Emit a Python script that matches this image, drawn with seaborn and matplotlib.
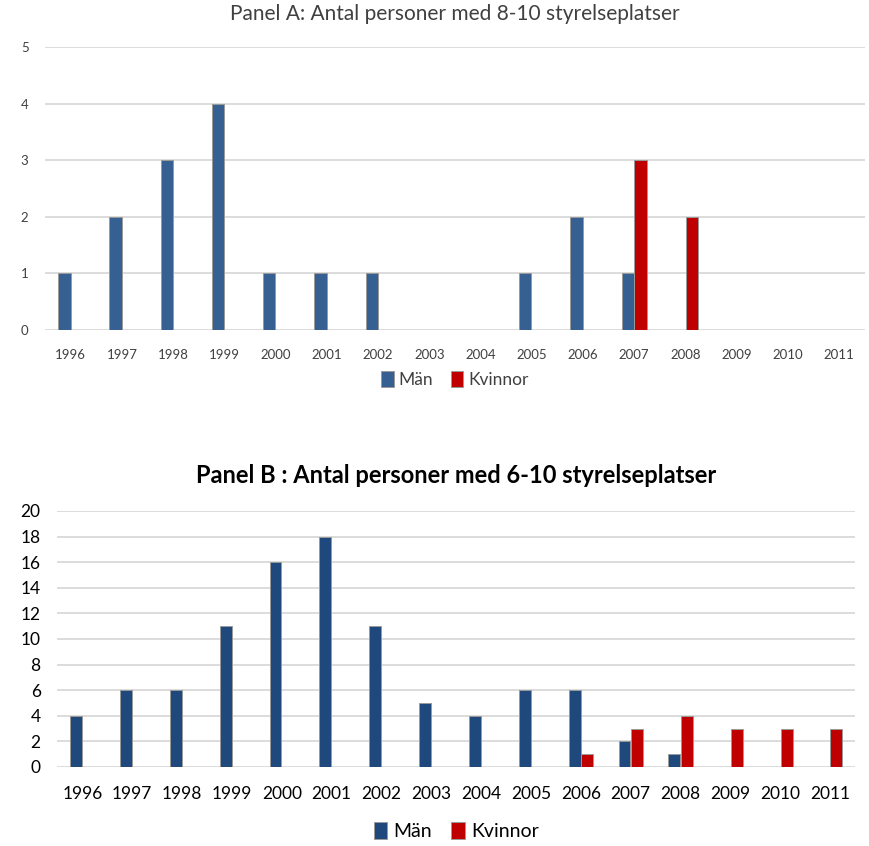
import pandas as pd
import seaborn as sns
import matplotlib.pyplot as plt

years = [str(y) for y in range(1996, 2012)]

# Panel A: 8-10 styrelseplatser
a_man = [1, 2, 3, 4, 1, 1, 1, 0, 0, 1, 2, 1, 0, 0, 0, 0]
a_kvinnor = [0, 0, 0, 0, 0, 0, 0, 0, 0, 0, 0, 3, 2, 0, 0, 0]

# Panel B: 6-10 styrelseplatser
b_man = [4, 6, 6, 11, 16, 18, 11, 5, 4, 6, 6, 2, 1, 0, 0, 0]
b_kvinnor = [0, 0, 0, 0, 0, 0, 0, 0, 0, 0, 1, 3, 4, 3, 3, 3]

sns.set_theme(style="white")
plt.rcParams['font.family'] = ['Lato', 'DejaVu Sans']


def long_df(man, kvinnor):
    df = pd.DataFrame({'År': years, 'Män': man, 'Kvinnor': kvinnor})
    return df.melt(id_vars='År', var_name='Kön', value_name='Antal')


fig = plt.figure(figsize=(8.69, 8.46), dpi=100)
ax1 = fig.add_axes([0.052, 0.610, 0.943, 0.334])
ax2 = fig.add_axes([0.066, 0.0934, 0.918, 0.3026])

panels = [
    (ax1, long_df(a_man, a_kvinnor), '#376092', 5, 1,
     'Panel A: Antal personer med 8-10 styrelseplatser', 'normal', '#404040', 11, 9.5, -0.09, 12.5),
    (ax2, long_df(b_man, b_kvinnor), '#1F497D', 20, 2,
     'Panel B : Antal personer med 6-10 styrelseplatser', 'bold', 'black', 13, 12.5, -0.145, 14),
]

for ax, df, blue, ymax, step, title, weight, tcol, tsize, lsize, legy, legsize in panels:
    sns.barplot(data=df, x='År', y='Antal', hue='Kön', hue_order=['Män', 'Kvinnor'],
                palette=[blue, '#C00000'], saturation=1, width=0.5, gap=0.04, ax=ax,
                edgecolor='#9a9a9a', linewidth=0.7, zorder=3)
    ax.set_ylim(0, ymax)
    ax.set_yticks(range(0, ymax + 1, step))
    ax.set_xlim(-0.5, 15.5)
    ax.yaxis.grid(True, color='#D9D9D9', linewidth=1.3, zorder=0)
    ax.set_axisbelow(True)
    for s in ax.spines.values():
        s.set_visible(False)
    ax.set_xlabel('')
    ax.set_ylabel('')
    ax.tick_params(axis='both', length=0, colors=tcol, labelsize=lsize)
    ax.tick_params(axis='x', pad=14)
    ax.tick_params(axis='y', pad=12)
    ax.set_title(title, fontsize=tsize + 4, fontweight=weight, color=tcol, pad=20)
    ax.legend(loc='upper center', bbox_to_anchor=(0.5, legy),
              ncol=2, frameon=False, handlelength=0.7, handleheight=1.0,
              handletextpad=0.3, columnspacing=1.0, fontsize=legsize,
              labelcolor=tcol)

fig.savefig('out.png', dpi=100)
